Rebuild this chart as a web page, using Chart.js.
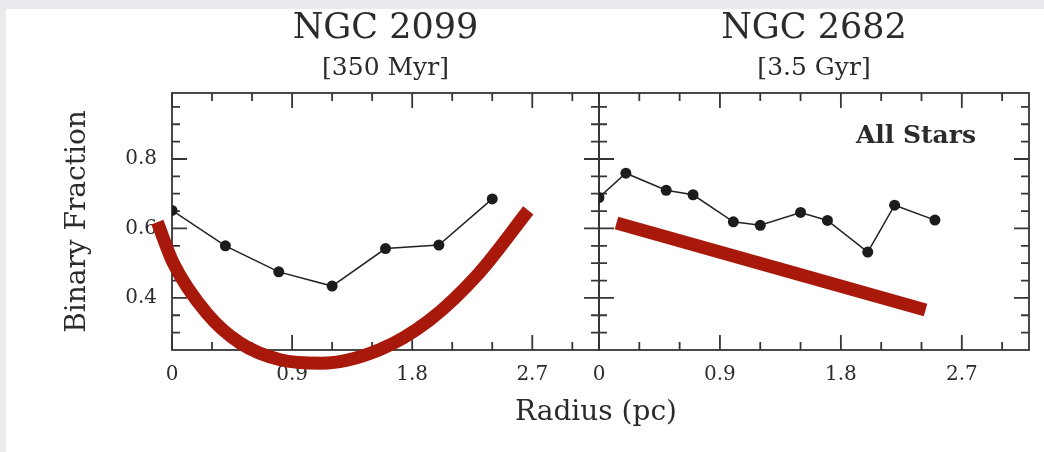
<!DOCTYPE html>
<html>
<head>
<meta charset="utf-8">
<script src="https://cdn.jsdelivr.net/npm/chart.js@4.4.0/dist/chart.umd.min.js"></script>
<style>
  body { margin: 0; background: #e9ebef; width: 1044px; height: 452px; overflow: hidden; font-family: "DejaVu Serif", serif; }
  #folha { position: absolute; left: 6px; top: 9px; right: 0; bottom: 0; background: #fff; }
  #painel1 { position: absolute; left: 0; top: 0; }
  #painel2 { position: absolute; left: 590px; top: 0; }
  .rotulo { position: absolute; color: #2b2b2b; white-space: nowrap; transform: translate(-50%, -50%); }
</style>
</head>
<body>
<div id="folha"></div>
<canvas id="painel1" width="600" height="452"></canvas>
<canvas id="painel2" width="454" height="452"></canvas>
<div class="rotulo" style="left:596px; top:410px; font-size:28px;">Radius (pc)</div>
<div class="rotulo" style="left:916px; top:134px; font-size:25px; font-weight:bold;">All Stars</div>

<script>
// valores
const raioNgc2099 = [0, 0.4, 0.8, 1.2, 1.6, 2.0, 2.4]
const fracaoNgc2099 = [0.652, 0.55, 0.475, 0.434, 0.542, 0.552, 0.685]

const raioNgc2682 = [0, 0.2, 0.5, 0.7, 1.0, 1.2, 1.5, 1.7, 2.0, 2.2, 2.5]
const fracaoNgc2682 = [0.689, 0.759, 0.71, 0.697, 0.619, 0.609, 0.646, 0.623, 0.532, 0.667, 0.624]

// tracos vermelhos desenhados por cima da figura
const curvaRaio = [-0.11, 0.01, 0.26, 0.51, 0.81, 1.12, 1.55, 1.93, 2.30, 2.67]
const curvaFracao = [0.618, 0.50, 0.356, 0.27, 0.222, 0.212, 0.25, 0.336, 0.471, 0.652]
const retaRaio = [0.13, 2.43]
const retaFracao = [0.616, 0.365]

// eixos
const ticksRaio = [0, 0.9, 1.8, 2.7]
const ticksRaioMenores = [0.3, 0.6, 1.2, 1.5, 2.1, 2.4, 3.0]
const ticksFracao = [0.4, 0.6, 0.8]
const ticksFracaoMenores = [0.3, 0.35, 0.45, 0.5, 0.55, 0.65, 0.7, 0.75, 0.85, 0.9, 0.95]

const corTexto = '#2b2b2b'
const corVermelho = '#a8190b'

Chart.defaults.font.family = '"DejaVu Serif", serif'
Chart.defaults.color = corTexto

function pontos(xs, ys) {
    return xs.map((v, i) => ({ x: v, y: ys[i] }))
}

// moldura com tracinhos para dentro nos quatro lados
const moldura = {
    id: 'moldura',
    beforeDatasetsDraw(chart) {
        const { ctx, chartArea: a, scales: { x, y } } = chart
        ctx.save()
        ctx.strokeStyle = '#363636'
        ctx.lineWidth = 1.8
        ctx.strokeRect(a.left, a.top, a.right - a.left, a.bottom - a.top)
        ctx.beginPath()
        const tracosX = (lista, tam) => {
            lista.forEach(v => {
                const px = x.getPixelForValue(v)
                ctx.moveTo(px, a.bottom); ctx.lineTo(px, a.bottom - tam)
                ctx.moveTo(px, a.top); ctx.lineTo(px, a.top + tam)
            })
        }
        const tracosY = (lista, tam) => {
            lista.forEach(v => {
                const py = y.getPixelForValue(v)
                ctx.moveTo(a.left, py); ctx.lineTo(a.left + tam, py)
                ctx.moveTo(a.right, py); ctx.lineTo(a.right - tam, py)
            })
        }
        tracosX(ticksRaio, 15)
        tracosX(ticksRaioMenores, 8)
        tracosY(ticksFracao, 15)
        tracosY(ticksFracaoMenores, 8)
        ctx.stroke()
        ctx.restore()
    }
}

function montarPainel(canvasId, titulo, idade, xs, ys, vermelhoX, vermelhoY, primeiro) {
    return new Chart(document.getElementById(canvasId), {
        type: 'scatter',
        data: {
            datasets: [
                {
                    label: titulo,
                    data: pontos(xs, ys),
                    showLine: true,
                    borderColor: '#222',
                    borderWidth: 1.5,
                    pointRadius: 5.5,
                    pointBackgroundColor: '#1c1c1c',
                    pointBorderWidth: 0,
                    order: 2
                },
                {
                    label: 'tendencia',
                    data: pontos(vermelhoX, vermelhoY),
                    showLine: true,
                    borderColor: corVermelho,
                    borderWidth: 13,
                    borderCapStyle: 'butt',
                    cubicInterpolationMode: 'monotone',
                    pointRadius: 0,
                    clip: false,
                    order: 1
                }
            ]
        },
        options: {
            responsive: false,
            animation: false,
            layout: {
                autoPadding: false,
                padding: { top: 8, left: 0, bottom: 0, right: primeiro ? 1 : 15 }
            },
            plugins: {
                legend: { display: false },
                tooltip: { enabled: false },
                title: {
                    display: true,
                    text: titulo,
                    fullSize: false,
                    font: { size: 35, weight: 'normal' },
                    padding: { top: 0, bottom: 3 }
                },
                subtitle: {
                    display: true,
                    text: idade,
                    fullSize: false,
                    color: corTexto,
                    font: { size: 25, weight: 'normal' },
                    padding: { top: 0, bottom: 10 }
                }
            },
            scales: {
                x: {
                    type: 'linear',
                    min: 0,
                    max: 3.2,
                    grid: { display: false, drawTicks: false },
                    border: { display: false },
                    afterBuildTicks: s => { s.ticks = ticksRaio.map(v => ({ value: v })) },
                    afterFit: s => { s.height = 102; s.paddingLeft = 0; s.paddingRight = 0 },
                    ticks: {
                        padding: 13,
                        font: { size: 20 },
                        callback: v => String(v)
                    }
                },
                y: {
                    type: 'linear',
                    min: 0.25,
                    max: 0.99,
                    grid: { display: false, drawTicks: false },
                    border: { display: false },
                    afterBuildTicks: s => { s.ticks = ticksFracao.map(v => ({ value: v })) },
                    afterFit: s => { s.width = primeiro ? 172 : 9; s.paddingTop = 0; s.paddingBottom = 0 },
                    title: {
                        display: primeiro,
                        text: 'Binary Fraction',
                        font: { size: 28 },
                        padding: { top: 61, bottom: 0 }
                    },
                    ticks: {
                        display: primeiro,
                        padding: 15,
                        font: { size: 20 },
                        callback: v => String(v)
                    }
                }
            }
        },
        plugins: [moldura]
    })
}

document.addEventListener('DOMContentLoaded', () => {
    montarPainel('painel1', 'NGC 2099', '[350 Myr]', raioNgc2099, fracaoNgc2099, curvaRaio, curvaFracao, true)
    montarPainel('painel2', 'NGC 2682', '[3.5 Gyr]', raioNgc2682, fracaoNgc2682, retaRaio, retaFracao, false)
})
</script>
</body>
</html>
